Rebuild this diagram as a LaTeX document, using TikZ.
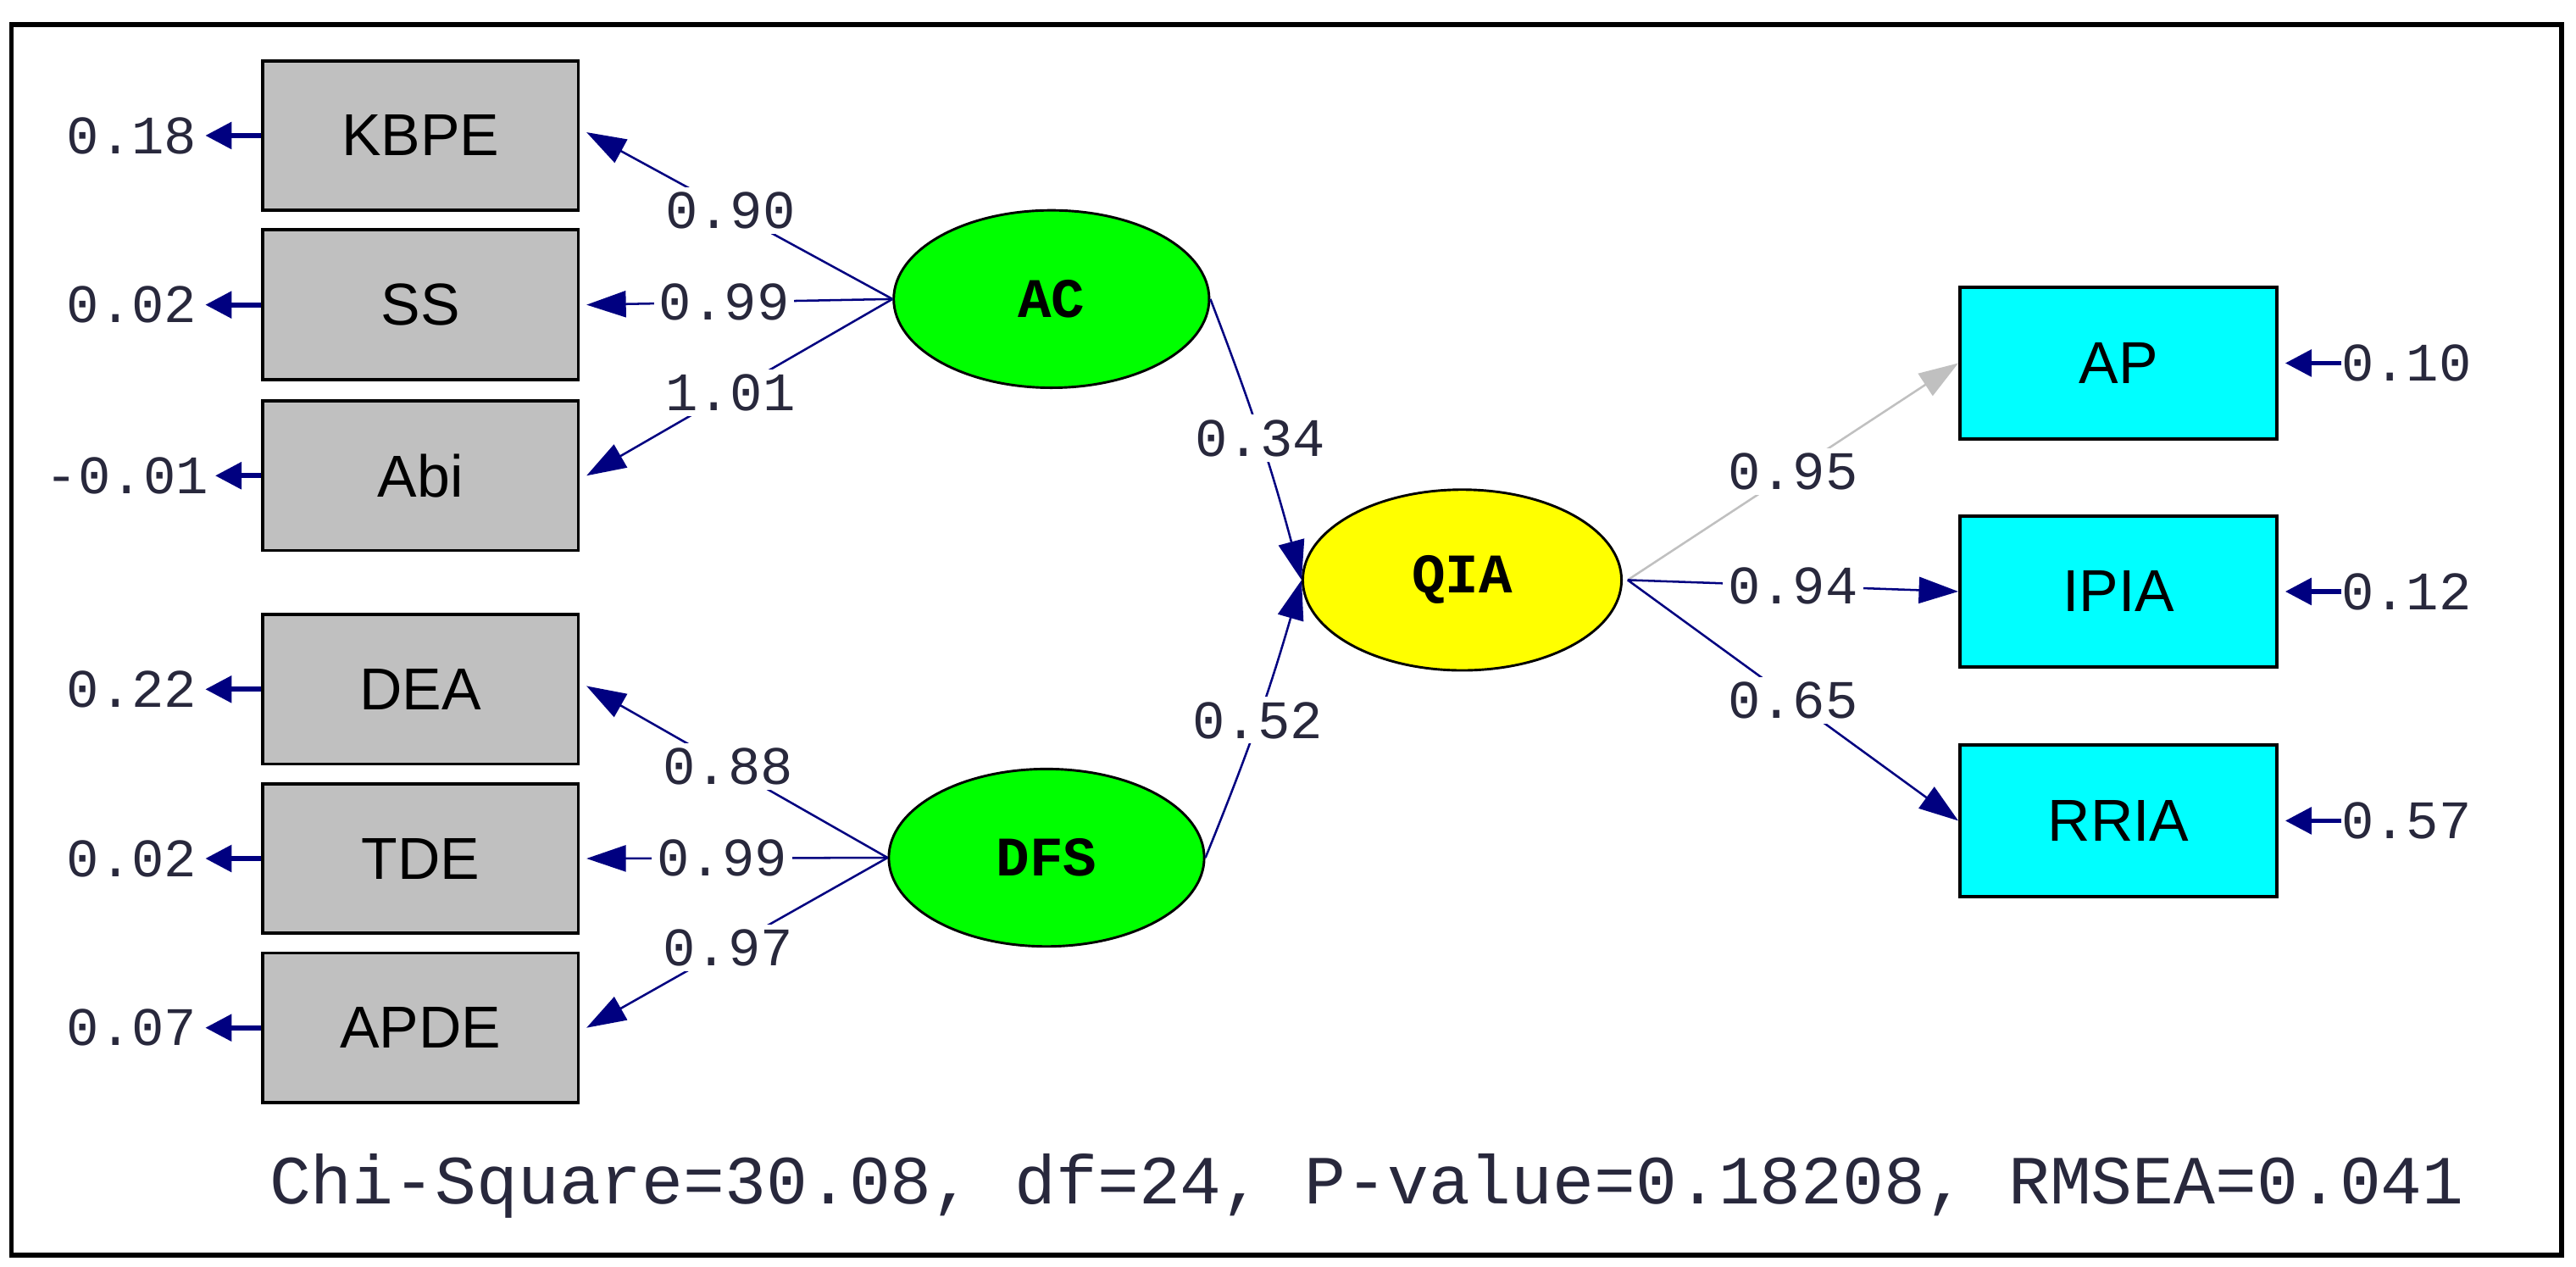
\documentclass[tikz,border=0pt]{standalone}
\usepackage{fontspec}
\setmainfont{Liberation Sans}
\newfontfamily\monof{Liberation Mono}
\usetikzlibrary{arrows.meta,shapes.geometric}
\definecolor{nav}{RGB}{0,0,128}
\definecolor{boxgray}{RGB}{192,192,192}
\definecolor{cyanb}{RGB}{0,255,255}
\definecolor{greenl}{RGB}{0,255,0}
\definecolor{yell}{RGB}{255,255,0}
\definecolor{numc}{RGB}{40,40,60}
\tikzset{
 obs/.style={draw=black,line width=2pt,minimum width=192pt,minimum height=91pt,inner sep=0pt,font=\fontsize{36}{36}\selectfont},
 lat/.style={draw=black,line width=1.5pt,ellipse,minimum width=192pt,minimum height=108pt,inner sep=0pt,font=\monof\bfseries\fontsize{34}{34}\selectfont},
 num/.style={font=\monof\fontsize{33}{33}\selectfont,text=numc,inner sep=2pt},
 lab/.style={num,fill=white,inner sep=3pt},
 path/.style={draw=nav,line width=1.3pt,-{Triangle[length=24pt,width=16pt]}},
 err/.style={draw=nav,line width=3pt,-{Triangle[length=16pt,width=16pt]}}
}
\begin{document}
\begin{tikzpicture}[x=1pt,y=-1pt]
\useasboundingbox (0,0) rectangle (1568,771);
\draw[line width=3pt] (7,15) rectangle (1559,764);
\foreach \n/\t/\y in {kbpe/KBPE/82.5,ss/SS/185.5,abi/Abi/289.5,dea/DEA/419.5,tde/TDE/522.5,apde/APDE/625.5}{
 \node[obs,fill=boxgray] (\n) at (256,\y) {\t};
}
\foreach \n/\t/\y in {ap/AP/221,ipia/IPIA/360,rria/RRIA/499.5}{
 \node[obs,fill=cyanb,minimum width=193pt,minimum height=92pt] (\n) at (1289.5,\y) {\t};
}
\node[lat,fill=greenl] (ac) at (640,182) {AC};
\node[lat,fill=greenl] (dfs) at (637,522) {DFS};
\node[lat,fill=yell,minimum width=194pt,minimum height=110pt] (qia) at (890,353) {QIA};
% residuals left
\foreach \n/\v in {kbpe/0.18,ss/0.02,dea/0.22,tde/0.02,apde/0.07}{
 \node[num,anchor=east] (r\n) at ([xshift=-37pt]\n.west) {\v};
 \draw[err] (\n.west) -- ([xshift=-34pt]\n.west);
}
\node[num,anchor=east] (rabi) at ([xshift=-30pt]abi.west) {-0.01};
\draw[err] (abi.west) -- ([xshift=-28pt]abi.west);
\foreach \n/\v in {ap/0.10,ipia/0.12,rria/0.57}{
 \node[num,anchor=west] (r\n) at ([xshift=36pt]\n.east) {\v};
 \draw[err] ([xshift=38pt]\n.east) -- ([xshift=4pt]\n.east);
}
% loadings
\draw[path] (ac.west) -- node[lab,pos=0.53] {0.90} ([xshift=4pt,yshift=2pt]kbpe.east);
\draw[path] (ac.west) -- node[lab,pos=0.55] {0.99} ([xshift=4pt]ss.east);
\draw[path] (ac.west) -- node[lab,pos=0.53] {1.01} ([xshift=4pt]abi.east);
\draw[path] (dfs.west) -- node[lab,pos=0.53] {0.88} ([xshift=4pt,yshift=2pt]dea.east);
\draw[path] (dfs.west) -- node[lab,pos=0.55] {0.99} ([xshift=4pt]tde.east);
\draw[path] (dfs.west) -- node[lab,pos=0.53] {0.97} ([xshift=4pt]apde.east);
\draw[path] (ac.east) to[bend left=3] node[lab,pos=0.5] {0.34} (qia.west);
\draw[path] (dfs.east) to[bend right=3] node[lab,pos=0.5] {0.52} (qia.west);
\draw[path,draw=boxgray] ([xshift=3pt]qia.east) -- node[lab,pos=0.5] {0.95} (ap.west);
\draw[path] ([xshift=3pt]qia.east) -- node[lab,pos=0.5] {0.94} (ipia.west);
\draw[path] ([xshift=3pt]qia.east) -- node[lab,pos=0.5] {0.65} (rria.west);
\node[num,font=\monof\fontsize{42}{42}\selectfont] (fit) at (832,722) {Chi-Square=30.08, df=24, P-value=0.18208, RMSEA=0.041};
\end{tikzpicture}
\end{document}
